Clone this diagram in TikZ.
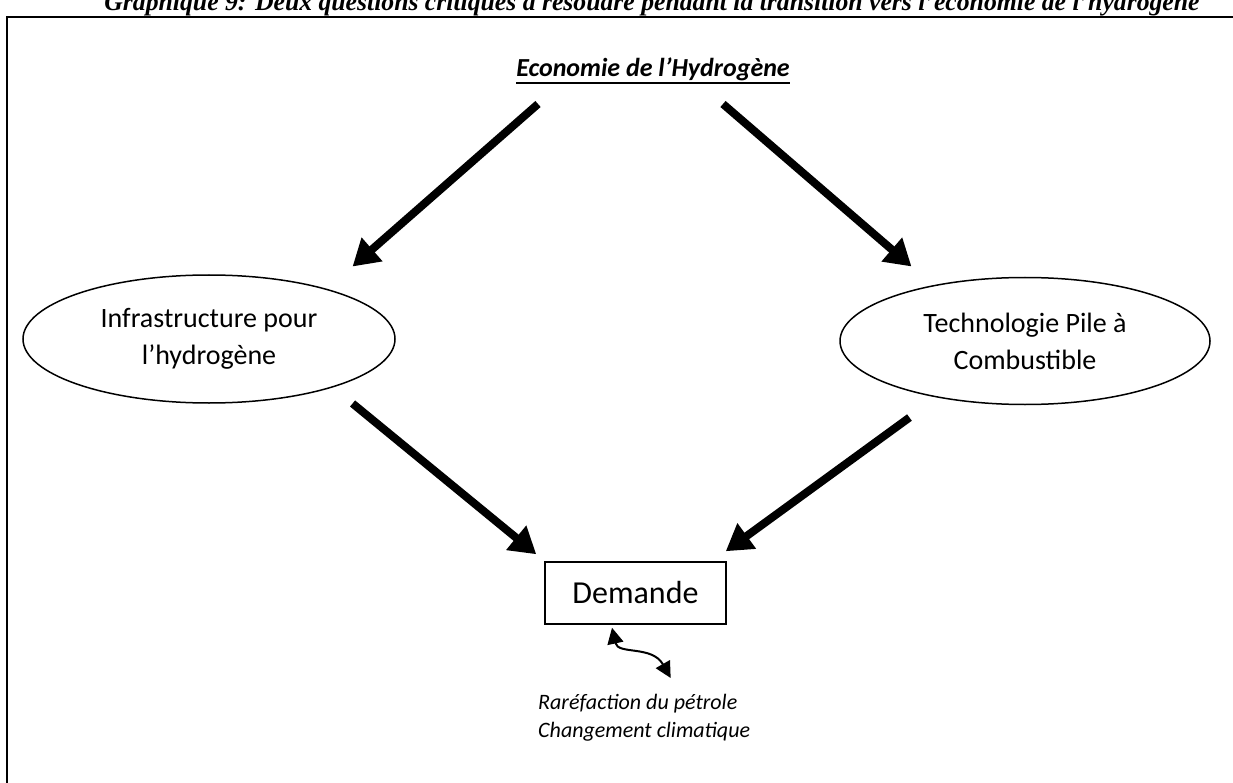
\documentclass[tikz,border=0pt]{standalone}
\usepackage{fontspec}
\setmainfont{Carlito}
\newfontfamily\legendefont{Liberation Serif}
\usetikzlibrary{shapes,arrows.meta,positioning,calc}

\begin{document}
\begin{tikzpicture}[x=1pt, y=-1pt,
    bulle/.style={ellipse, draw, line width=1.5pt, minimum width=372pt, minimum height=128pt, inner sep=0pt, align=center, font=\fontsize{28}{37}\selectfont},
    boite/.style={rectangle, draw, line width=1.5pt, minimum width=181pt, minimum height=62pt, inner sep=0pt, font=\fontsize{32}{38}\selectfont},
    grosse/.style={line width=8pt, -{Triangle[length=26pt, width=30pt]}},
    fine/.style={line width=2pt, {Triangle[length=16pt, width=16pt]}-{Triangle[length=16pt, width=16pt]}}]
    \useasboundingbox (0,0) rectangle (1233,783);
    \clip (0,0) rectangle (1233,783);
    \draw[line width=2pt] (7,17) rectangle (1260,820);

    \node[anchor=base, inner sep=0pt, font=\legendefont\bfseries\itshape\fontsize{25.7}{30}\selectfont] (legende) at (652,11) {Graphique 9: Deux questions critiques à résoudre pendant la transition vers l’économie de l’hydrogène};
    \node[anchor=base, inner sep=0pt, font=\bfseries\itshape\fontsize{26}{30}\selectfont] (eco) at (653,77) {Economie de l’Hydrogène};
    \draw[line width=2.5pt] ([yshift=-6pt]eco.base west) -- ([yshift=-6pt]eco.base east);

    \node[bulle] (infra) at (209,339) {Infrastructure pour\\l’hydrogène};
    \node[bulle, minimum width=370pt, minimum height=127pt] (pac) at (1025,341) {Technologie Pile à\\Combustible};
    \node[boite] (demande) at (635.5,593) {Demande};
    \node[anchor=north west, inner sep=0pt, align=left, font=\itshape\fontsize{22}{28}\selectfont] (facteurs) at (538,694) {Raréfaction du pétrole\\Changement climatique};

    \draw[grosse] ([shift={(-115,27)}]eco.base) -- ([shift={(11.5,-26.7)}]infra.north east);
    \draw[grosse] ([shift={(70,27)}]eco.base) -- ([shift={(17.8,-29.1)}]pac.north west);
    \draw[grosse] ([shift={(11.5,18.7)}]infra.south east) -- ([shift={(-8,-7)}]demande.north west);
    \draw[grosse] ([shift={(15.8,31.1)}]pac.south west) -- ([shift={(-1,-10)}]demande.north east);
    \draw[fine] ([shift={(-23.5,3)}]demande.south) .. controls (618,655) and (652,645) .. ([shift={(26.5,-16)}]facteurs.north);
\end{tikzpicture}
\end{document}
